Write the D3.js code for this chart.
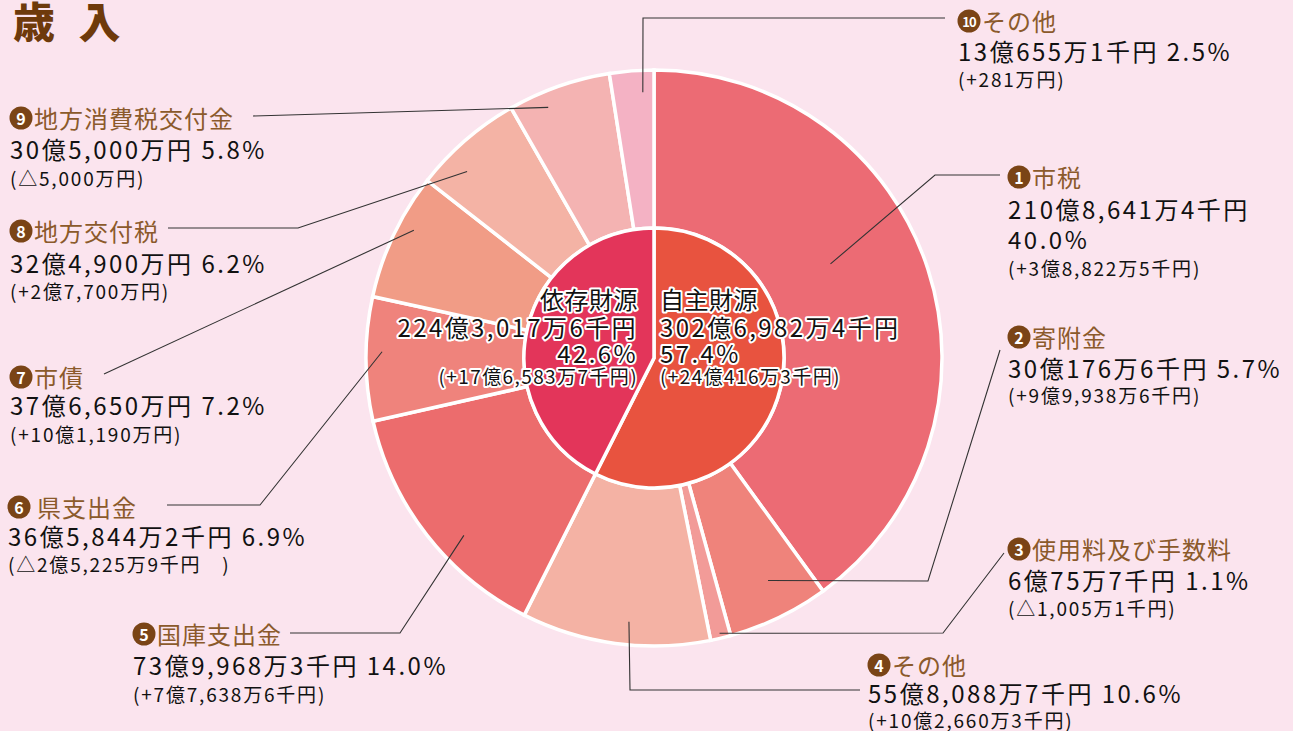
<!DOCTYPE html>
<html><head><meta charset="utf-8">
<script src="https://cdn.jsdelivr.net/npm/d3@7"></script>
<style>
html,body{margin:0;padding:0;background:#fbe4ee;}
svg{display:block;font-family:"Noto Sans CJK JP","Noto Sans",sans-serif;}
</style></head>
<body>
<svg id="chart" width="1293" height="731"></svg>
<script>
// ---- data ----
const categories = ["市税","寄附金","使用料及び手数料","その他","国庫支出金","県支出金","市債","地方交付税","地方消費税交付金","その他"];
const amounts = [210.86414, 30.01766, 6.00757, 55.80887, 73.99683, 36.58442, 37.6665, 32.49, 30.5, 13.06551]; // 億円
const amountLabels = ["210億8,641万4千円","30億176万6千円","6億75万7千円","55億8,088万7千円","73億9,968万3千円","36億5,844万2千円","37億6,650万円","32億4,900万円","30億5,000万円","13億655万1千円"];
const pctLabels = ["40.0%","5.7%","1.1%","10.6%","14.0%","6.9%","7.2%","6.2%","5.8%","2.5%"];
const changeLabels = ["(+3億8,822万5千円)","(+9億9,938万6千円)","(△1,005万1千円)","(+10億2,660万3千円)","(+7億7,638万6千円)","(△2億5,225万9千円　)","(+10億1,190万円)","(+2億7,700万円)","(△5,000万円)","(+281万円)"];
const groupNames = ["自主財源","依存財源"];
const groupAmounts = [302.69824, 224.30176];
const groupAmountLabels = ["302億6,982万4千円","224億3,017万6千円"];
const groupPctLabels = ["57.4%","42.6%"];
const groupChangeLabels = ["(+24億416万3千円)","(+17億6,583万7千円)"];

// ---- styles / layout ----
const ringColors = ["#ec6b74","#ef837b","#f29b98","#f4b2a4","#ec6c6d","#ef837c","#f19c86","#f4b3a5","#f4b3b2","#f4b2c4"];
const groupColors = ["#e8533f","#e3355a"];
const cx = 654, cy = 358, R = 288, r0 = 130;
const layout = [
  {x:1008, ty:176, ay:208, py:238, cyy:267, anc:[0.43,200], path:[[935,175],[1000,175]]},
  {x:1008, ty:336, ay:367, cyy:394, anc:[0.43,250], path:[[928,581],[1000,350]]},
  {x:1008, ty:548, ay:579, cyy:607, anc:[0.5,283], path:[[943,633],[1004,553]]},
  {x:868,  ty:664, ay:692, cyy:719, anc:[0.44,265], path:[[630,690],[860,690]]},
  {x:133,  ty:633, ay:664, cyy:693, anc:[0.40,260], path:[[400,633],[290,633]]},
  {x:8,    ty:506, ay:535, cyy:563, anc:[0.56,272], path:[[260,505],[167,505]], gap:true},
  {x:10,   ty:376, ay:404, cyy:433, anc:[0.61,272], path:[[104,374]]},
  {x:10,   ty:230, ay:262, cyy:290, anc:[0.31,264], path:[[298,228],[168,228]]},
  {x:10,   ty:117, ay:148, cyy:177, anc:[0.33,272], path:[[253,116]]},
  {x:958,  ty:20,  ay:50,  cyy:78,  anc:[0.73,266], path:[[643,18],[945,18]]}
];

const svg = d3.select("#chart");
svg.append("rect").attr("width",1293).attr("height",731).attr("fill","#fbe4ee");

svg.append("text").attr("x",13).attr("y",38).attr("font-size",42).attr("font-weight",900)
  .attr("letter-spacing",7).attr("fill","#6e3a0b").text("歳 入");

const g = svg.append("g").attr("transform",`translate(${cx},${cy})`);
const pie = d3.pie().sort(null).value(d=>d);
const ringArcs = pie(amounts);
const arcOuter = d3.arc().innerRadius(r0).outerRadius(R);
g.selectAll("path.ring").data(ringArcs).join("path").attr("class","ring")
  .attr("d",arcOuter).attr("fill",(d,i)=>ringColors[i]).attr("stroke","#fff").attr("stroke-width",3.5);

const innerArcs = pie(groupAmounts);
const arcInner = d3.arc().innerRadius(0).outerRadius(r0);
g.selectAll("path.inner").data(innerArcs).join("path").attr("class","inner")
  .attr("d",arcInner).attr("fill",(d,i)=>groupColors[i]).attr("stroke","#fff").attr("stroke-width",3.5);

// leader lines
const line = d3.line();
ringArcs.forEach((a,i)=>{
  const L = layout[i];
  const ang = a.startAngle + (a.endAngle-a.startAngle)*L.anc[0];
  const p0 = [cx + L.anc[1]*Math.sin(ang), cy - L.anc[1]*Math.cos(ang)];
  svg.append("path").attr("d",line([p0,...L.path])).attr("fill","none")
    .attr("stroke","#333").attr("stroke-width",1.1);
});

// outer labels
const brown = "#8b5a2b";
categories.forEach((c,i)=>{
  const L = layout[i];
  const lg = svg.append("g");
  const ccx = L.x + 11;
  lg.append("circle").attr("cx",ccx).attr("cy",L.ty+1).attr("r",11.5).attr("fill","#7a4416");
  lg.append("text").attr("x",ccx).attr("y",L.ty+1).attr("text-anchor","middle").attr("dominant-baseline","central")
    .attr("font-size", i===9?13:16).attr("font-weight",700).attr("fill","#fff")
    .attr("letter-spacing", i===9?-1:0).text(String(i+1));
  lg.append("text").attr("x",ccx+13+(L.gap?5:0)).attr("y",L.ty).attr("dominant-baseline","central")
    .attr("font-size",24).attr("letter-spacing",1).attr("fill",brown).text(c);
  if(L.py){
    lg.append("text").attr("x",L.x).attr("y",L.ay).attr("dominant-baseline","central")
      .attr("font-size",24).attr("letter-spacing",2.5).attr("fill","#111").text(amountLabels[i]);
    lg.append("text").attr("x",L.x).attr("y",L.py).attr("dominant-baseline","central")
      .attr("font-size",24).attr("letter-spacing",2.5).attr("fill","#111").text(pctLabels[i]);
  } else {
    lg.append("text").attr("x",L.x).attr("y",L.ay).attr("dominant-baseline","central")
      .attr("font-size",24).attr("letter-spacing",2.5).attr("fill","#111").text(amountLabels[i]+" "+pctLabels[i]);
  }
  lg.append("text").attr("x",L.x).attr("y",L.cyy).attr("dominant-baseline","central")
    .attr("font-size",19).attr("letter-spacing",1.8).attr("fill","#111").text(changeLabels[i]);
});

// inner labels
const innerLayout = [{x:660, anchor:"start"},{x:638, anchor:"end"}];
const innerYs = [298, 326, 352, 375];
groupNames.forEach((n,i)=>{
  const L = innerLayout[i];
  const rows = [[n,24,0.5],[groupAmountLabels[i],24,2.4],[groupPctLabels[i],24,2.4],[groupChangeLabels[i],19,1.4]];
  rows.forEach((r,k)=>{
    svg.append("text").attr("x",L.x).attr("y",innerYs[k]).attr("text-anchor",L.anchor)
      .attr("dominant-baseline","central").attr("font-size",r[1]).attr("letter-spacing",r[2])
      .attr("fill","#111").attr("stroke","#fff").attr("stroke-width",4).attr("stroke-linejoin","round")
      .attr("paint-order","stroke").text(r[0]);
  });
});
</script>
</body></html>
